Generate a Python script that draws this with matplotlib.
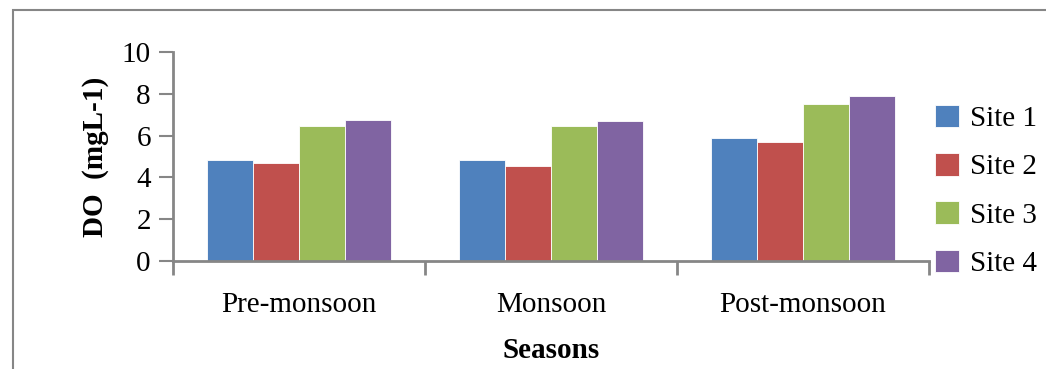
import matplotlib.pyplot as plt
from matplotlib.patches import Rectangle
import numpy as np

seasons = ["Pre-monsoon", "Monsoon", "Post-monsoon"]
sites = ["Site 1", "Site 2", "Site 3", "Site 4"]
site1 = [4.83, 4.83, 5.87]
site2 = [4.70, 4.55, 5.68]
site3 = [6.46, 6.46, 7.51]
site4 = [6.76, 6.68, 7.89]
colors = ["#4f81bd", "#c0504d", "#9bbb59", "#8064a2"]

plt.rcParams['font.family'] = ['Liberation Serif', 'DejaVu Serif']
grey = "#868686"
fs = 21

fig = plt.figure(figsize=(10.46, 3.69), dpi=100)
# outer chart frame (clipped by the image edges)
fig.patches.append(Rectangle((13 / 1046, -0.1), 1.2, 1 - 10 / 369 + 0.1,
                             transform=fig.transFigure, fill=False,
                             edgecolor=grey, linewidth=1.5))
ax = fig.add_axes([173 / 1046, 1 - 261 / 369, (929 - 173) / 1046, (261 - 52) / 369])

x = np.arange(len(seasons))
w = 0.182
for i, (vals, name) in enumerate(zip([site1, site2, site3, site4], sites)):
    ax.bar(x + (i - 1.5) * w, vals, w, color=colors[i], label=name,
           edgecolor="white", linewidth=0.6, zorder=2)

ax.set_xlim(-0.5, 2.5)
ax.set_ylim(0, 10)
ax.set_yticks(range(0, 11, 2))
ax.set_xticks([-0.5, 0.5, 1.5, 2.5])
ax.set_xticklabels([])
ax.set_xticks(x, minor=True)
ax.set_xticklabels(seasons, minor=True, fontsize=fs)
ax.tick_params(axis='x', which='minor', length=0, pad=22)
ax.tick_params(axis='x', which='major', length=10, width=2, color=grey, direction='out')
ax.tick_params(axis='y', length=10, width=1.5, color=grey, labelsize=fs, pad=6)

for s in ['top', 'right']:
    ax.spines[s].set_visible(False)
for s in ['left', 'bottom']:
    ax.spines[s].set_color(grey)
    ax.spines[s].set_linewidth(2)

ax.set_ylabel("DO  (mgL-1)", fontsize=fs, fontweight='bold', labelpad=9)
ax.set_xlabel("Seasons", fontsize=fs, fontweight='bold', labelpad=14)

leg = ax.legend(loc='center left', bbox_to_anchor=(0.993, 0.335), frameon=False,
                fontsize=fs, handlelength=0.8, handleheight=0.8,
                handletextpad=0.4, labelspacing=0.72, borderaxespad=0.0)

fig.savefig("out.png", dpi=100)
